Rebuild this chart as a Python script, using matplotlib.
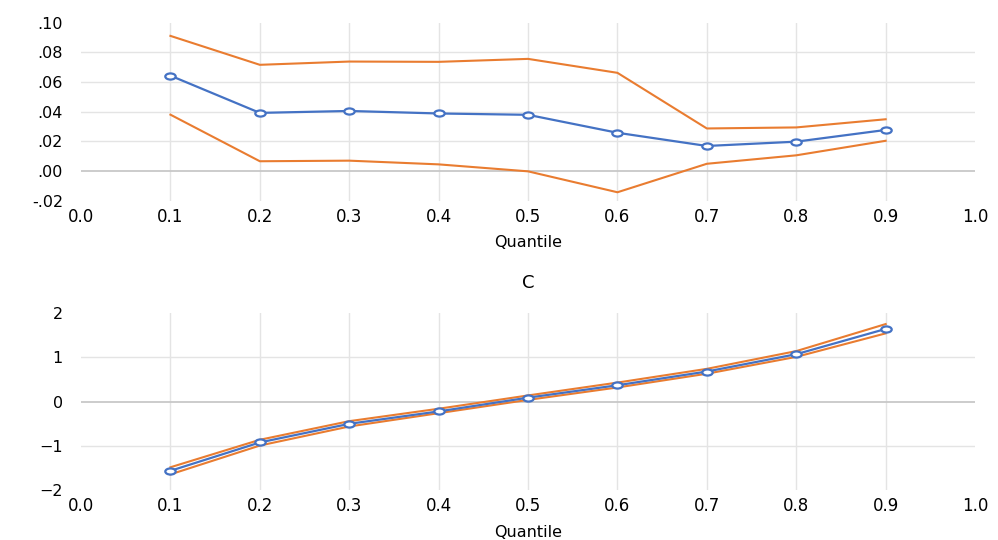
import numpy as np
import matplotlib
matplotlib.use("Agg")
import matplotlib.pyplot as plt
from matplotlib.path import Path
from matplotlib.transforms import Affine2D

# quantiles
quantiles = [0.1, 0.2, 0.3, 0.4, 0.5, 0.6, 0.7, 0.8, 0.9]

# top panel: estimate with upper / lower bounds
top_est = [0.0643, 0.0392, 0.0405, 0.0388, 0.0379, 0.0258, 0.0169, 0.0198, 0.0277]
top_upper = [0.0911, 0.0716, 0.0738, 0.0736, 0.0756, 0.0662, 0.0287, 0.0294, 0.0349]
top_lower = [0.0380, 0.0066, 0.0070, 0.0045, -0.0002, -0.0143, 0.0049, 0.0106, 0.0204]

# bottom panel "C"
c_est = [-1.56, -0.92, -0.50, -0.22, 0.09, 0.37, 0.68, 1.07, 1.64]
c_upper = [-1.48, -0.86, -0.44, -0.16, 0.14, 0.43, 0.74, 1.14, 1.75]
c_lower = [-1.64, -0.99, -0.56, -0.26, 0.04, 0.32, 0.63, 1.01, 1.54]

x_ticks = [0.0, 0.1, 0.2, 0.3, 0.4, 0.5, 0.6, 0.7, 0.8, 0.9, 1.0]
x_labels = ["0.0", "0.1", "0.2", "0.3", "0.4", "0.5", "0.6", "0.7", "0.8", "0.9", "1.0"]
top_yticks = [-0.02, 0.0, 0.02, 0.04, 0.06, 0.08, 0.10]
top_ylabels = ["-.02", ".00", ".02", ".04", ".06", ".08", ".10"]
c_yticks = [-2, -1, 0, 1, 2]
c_ylabels = ["\u22122", "\u22121", "0", "1", "2"]

BLUE = "#4472C4"
ORANGE = "#E97C30"
GRID = "#E4E4E4"
ZERO = "#C8C8C8"

# the markers in the original are squashed circles
ellipse = Path.unit_circle().transformed(Affine2D().scale(1.7, 1.0))

plt.rcParams["font.family"] = "DejaVu Sans"

fig = plt.figure(figsize=(9.98, 5.40), dpi=100)
ax1 = fig.add_axes([0.0812, 0.6283, 0.8958, 0.3297])
ax2 = fig.add_axes([0.0812, 0.0920, 0.8958, 0.3284])


def style_axes(ax, yticks, ylabels, ylim):
    ax.set_xlim(0.0, 1.0)
    ax.set_ylim(*ylim)
    ax.set_xticks(x_ticks)
    ax.set_xticklabels(x_labels)
    ax.set_yticks(yticks)
    ax.set_yticklabels(ylabels)
    for s in ax.spines.values():
        s.set_visible(False)
    ax.tick_params(axis="both", length=0, colors="black")
    ax.tick_params(axis="x", pad=5, labelsize=12)
    ax.tick_params(axis="y", pad=13, labelsize=11.5)
    # interior grid only
    for v in x_ticks[1:-1]:
        ax.axvline(v, color=GRID, lw=1, zorder=0)
    for v in yticks[1:-1]:
        ax.axhline(v, color=ZERO if v == 0 else GRID, lw=1.3 if v == 0 else 1, zorder=0)
    ax.set_xlabel("Quantile", fontsize=11.5, labelpad=7)


style_axes(ax1, top_yticks, top_ylabels, (-0.02, 0.10))
ax1.plot(quantiles, top_upper, color=ORANGE, lw=1.5)
ax1.plot(quantiles, top_lower, color=ORANGE, lw=1.5)
ax1.plot(quantiles, top_est, color=BLUE, lw=1.6, marker=ellipse, ms=7.5,
         mfc="white", mec=BLUE, mew=1.6)

style_axes(ax2, c_yticks, c_ylabels, (-2, 2))
ax2.plot(quantiles, c_upper, color=ORANGE, lw=1.5)
ax2.plot(quantiles, c_lower, color=ORANGE, lw=1.5)
ax2.plot(quantiles, c_est, color=BLUE, lw=1.6, marker=ellipse, ms=7.5,
         mfc="white", mec=BLUE, mew=1.6)
ax2.set_title("C", fontsize=13, pad=18)

fig.savefig("out.png", dpi=100)
